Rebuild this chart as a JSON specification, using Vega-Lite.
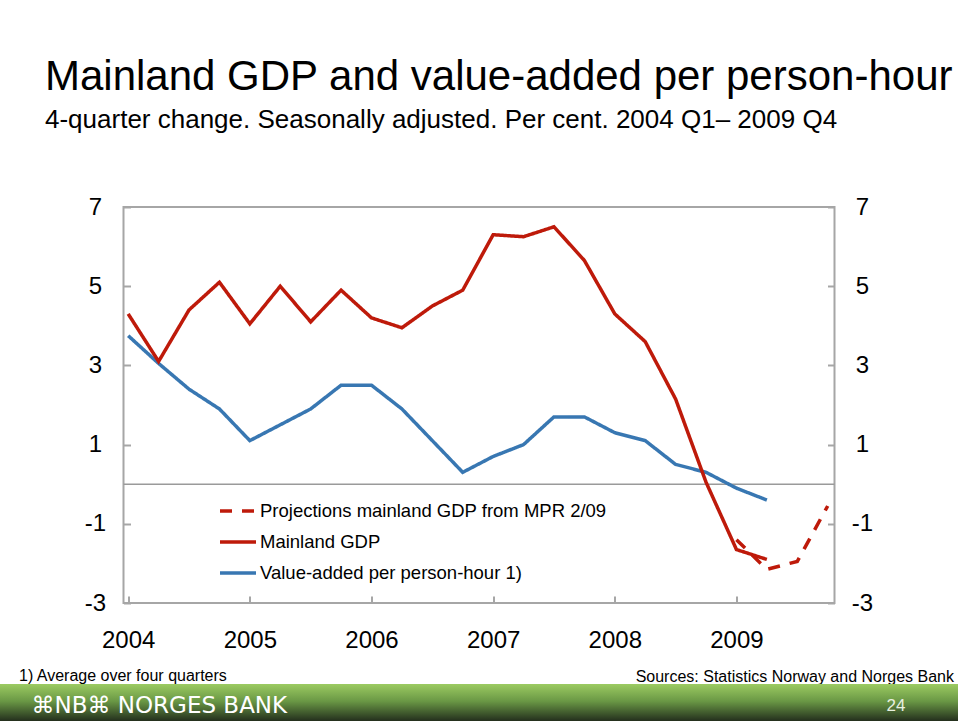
{
  "$schema": "https://vega.github.io/schema/vega-lite/v6.json",
  "background": "white",
  "padding": {"left": 0, "right": 0, "top": 55, "bottom": 0},
  "autosize": {"type": "pad"},
  "bounds": "flush",
  "center": true,
  "spacing": 81,
  "config": {"font": "Liberation Sans"},
  "title": {
    "text": "Mainland GDP and value-added per person-hour",
    "subtitle": "4-quarter change. Seasonally adjusted. Per cent. 2004 Q1– 2009 Q4",
    "anchor": "start",
    "frame": "group",
    "dx": 45,
    "offset": 60,
    "font": "Liberation Sans",
    "fontSize": 42,
    "fontWeight": "normal",
    "color": "#000000",
    "subtitleFont": "Liberation Sans",
    "subtitleFontSize": 26,
    "subtitleColor": "#000000",
    "subtitlePadding": 8.5
  },
  "datasets": {
    "gdp": [
      {"quarter": "2004 Q1", "t": 2004.00, "series": "Value-added per person-hour 1)", "value": 3.75},
      {"quarter": "2004 Q2", "t": 2004.25, "series": "Value-added per person-hour 1)", "value": 3.05},
      {"quarter": "2004 Q3", "t": 2004.50, "series": "Value-added per person-hour 1)", "value": 2.4},
      {"quarter": "2004 Q4", "t": 2004.75, "series": "Value-added per person-hour 1)", "value": 1.9},
      {"quarter": "2005 Q1", "t": 2005.00, "series": "Value-added per person-hour 1)", "value": 1.1},
      {"quarter": "2005 Q2", "t": 2005.25, "series": "Value-added per person-hour 1)", "value": 1.5},
      {"quarter": "2005 Q3", "t": 2005.50, "series": "Value-added per person-hour 1)", "value": 1.9},
      {"quarter": "2005 Q4", "t": 2005.75, "series": "Value-added per person-hour 1)", "value": 2.5},
      {"quarter": "2006 Q1", "t": 2006.00, "series": "Value-added per person-hour 1)", "value": 2.5},
      {"quarter": "2006 Q2", "t": 2006.25, "series": "Value-added per person-hour 1)", "value": 1.9},
      {"quarter": "2006 Q3", "t": 2006.50, "series": "Value-added per person-hour 1)", "value": 1.1},
      {"quarter": "2006 Q4", "t": 2006.75, "series": "Value-added per person-hour 1)", "value": 0.3},
      {"quarter": "2007 Q1", "t": 2007.00, "series": "Value-added per person-hour 1)", "value": 0.7},
      {"quarter": "2007 Q2", "t": 2007.25, "series": "Value-added per person-hour 1)", "value": 1.0},
      {"quarter": "2007 Q3", "t": 2007.50, "series": "Value-added per person-hour 1)", "value": 1.7},
      {"quarter": "2007 Q4", "t": 2007.75, "series": "Value-added per person-hour 1)", "value": 1.7},
      {"quarter": "2008 Q1", "t": 2008.00, "series": "Value-added per person-hour 1)", "value": 1.3},
      {"quarter": "2008 Q2", "t": 2008.25, "series": "Value-added per person-hour 1)", "value": 1.1},
      {"quarter": "2008 Q3", "t": 2008.50, "series": "Value-added per person-hour 1)", "value": 0.5},
      {"quarter": "2008 Q4", "t": 2008.75, "series": "Value-added per person-hour 1)", "value": 0.3},
      {"quarter": "2009 Q1", "t": 2009.00, "series": "Value-added per person-hour 1)", "value": -0.1},
      {"quarter": "2009 Q2", "t": 2009.25, "series": "Value-added per person-hour 1)", "value": -0.4},
      {"quarter": "2004 Q1", "t": 2004.00, "series": "Mainland GDP", "value": 4.3},
      {"quarter": "2004 Q2", "t": 2004.25, "series": "Mainland GDP", "value": 3.1},
      {"quarter": "2004 Q3", "t": 2004.50, "series": "Mainland GDP", "value": 4.4},
      {"quarter": "2004 Q4", "t": 2004.75, "series": "Mainland GDP", "value": 5.1},
      {"quarter": "2005 Q1", "t": 2005.00, "series": "Mainland GDP", "value": 4.05},
      {"quarter": "2005 Q2", "t": 2005.25, "series": "Mainland GDP", "value": 5.0},
      {"quarter": "2005 Q3", "t": 2005.50, "series": "Mainland GDP", "value": 4.1},
      {"quarter": "2005 Q4", "t": 2005.75, "series": "Mainland GDP", "value": 4.9},
      {"quarter": "2006 Q1", "t": 2006.00, "series": "Mainland GDP", "value": 4.2},
      {"quarter": "2006 Q2", "t": 2006.25, "series": "Mainland GDP", "value": 3.95},
      {"quarter": "2006 Q3", "t": 2006.50, "series": "Mainland GDP", "value": 4.5},
      {"quarter": "2006 Q4", "t": 2006.75, "series": "Mainland GDP", "value": 4.9},
      {"quarter": "2007 Q1", "t": 2007.00, "series": "Mainland GDP", "value": 6.3},
      {"quarter": "2007 Q2", "t": 2007.25, "series": "Mainland GDP", "value": 6.25},
      {"quarter": "2007 Q3", "t": 2007.50, "series": "Mainland GDP", "value": 6.5},
      {"quarter": "2007 Q4", "t": 2007.75, "series": "Mainland GDP", "value": 5.65},
      {"quarter": "2008 Q1", "t": 2008.00, "series": "Mainland GDP", "value": 4.3},
      {"quarter": "2008 Q2", "t": 2008.25, "series": "Mainland GDP", "value": 3.6},
      {"quarter": "2008 Q3", "t": 2008.50, "series": "Mainland GDP", "value": 2.15},
      {"quarter": "2008 Q4", "t": 2008.75, "series": "Mainland GDP", "value": 0.05},
      {"quarter": "2009 Q1", "t": 2009.00, "series": "Mainland GDP", "value": -1.65},
      {"quarter": "2009 Q2", "t": 2009.25, "series": "Mainland GDP", "value": -1.9},
      {"quarter": "2009 Q1", "t": 2009.00, "series": "Projections mainland GDP from MPR 2/09", "value": -1.4},
      {"quarter": "2009 Q2", "t": 2009.25, "series": "Projections mainland GDP from MPR 2/09", "value": -2.15},
      {"quarter": "2009 Q3", "t": 2009.50, "series": "Projections mainland GDP from MPR 2/09", "value": -1.95},
      {"quarter": "2009 Q4", "t": 2009.75, "series": "Projections mainland GDP from MPR 2/09", "value": -0.55}
    ]
  },
  "vconcat": [
    {
      "width": 711,
      "height": 396,
      "view": {"stroke": "#a6a6a6", "strokeWidth": 2},
      "layer": [
        {
          "data": {"values": [{"reference": 0}]},
          "mark": {"type": "rule", "color": "#9a9a9a", "strokeWidth": 1.5},
          "encoding": {
            "y": {
              "field": "reference",
              "type": "quantitative",
              "scale": {"domain": [-3, 7], "nice": false, "zero": false},
              "axis": {
                "orient": "right",
                "values": [-3, -1, 1, 3, 5, 7],
                "labelExpr": "toString(datum.value)",
                "domain": false,
                "grid": false,
                "tickSize": -7,
                "tickColor": "#a6a6a6",
                "tickWidth": 2,
                "labelFontSize": 24,
                "labelColor": "#000000",
                "labelAlign": "center",
                "labelPadding": 34.5,
                "title": "Sources: Statistics Norway and Norges Bank",
                "titleAngle": 0,
                "titleX": 119,
                "titleY": 474,
                "titleAlign": "right",
                "titleBaseline": "alphabetic",
                "titleFontSize": 16,
                "titleFontWeight": "normal",
                "titleColor": "#000000"
              }
            }
          }
        },
        {
          "data": {"name": "gdp"},
          "mark": {"type": "line", "strokeJoin": "miter"},
          "encoding": {
            "x": {
              "field": "t",
              "type": "quantitative",
              "scale": {"domain": [2003.9614, 2009.806], "nice": false, "zero": false},
              "axis": {
                "values": [2004, 2005, 2006, 2007, 2008, 2009],
                "format": "d",
                "domain": false,
                "grid": false,
                "labelFlush": false,
                "tickSize": -7,
                "tickColor": "#a6a6a6",
                "tickWidth": 2,
                "labelFontSize": 24,
                "labelColor": "#000000",
                "labelPadding": 32,
                "title": "1) Average over four quarters",
                "titleX": -105,
                "titleY": 77,
                "titleAlign": "left",
                "titleAnchor": "start",
                "titleBaseline": "alphabetic",
                "titleFontSize": 16,
                "titleFontWeight": "normal",
                "titleColor": "#000000"
              }
            },
            "y": {
              "field": "value",
              "type": "quantitative",
              "scale": {"domain": [-3, 7], "nice": false, "zero": false},
              "axis": {
                "orient": "left",
                "values": [-3, -1, 1, 3, 5, 7],
                "labelExpr": "toString(datum.value)",
                "domain": false,
                "grid": false,
                "tickSize": -7,
                "tickColor": "#a6a6a6",
                "tickWidth": 2,
                "labelFontSize": 24,
                "labelColor": "#000000",
                "labelAlign": "center",
                "labelPadding": 35.5,
                "title": null
              }
            },
            "color": {
              "field": "series",
              "type": "nominal",
              "scale": {
                "domain": ["Projections mainland GDP from MPR 2/09", "Mainland GDP", "Value-added per person-hour 1)"],
                "range": ["#BE1A0A", "#BE1A0A", "#3877B2"]
              },
              "legend": {
                "title": null,
                "orient": "none",
                "legendX": 218,
                "legendY": 284,
                "symbolType": "stroke",
                "symbolSize": 1296,
                "symbolStrokeWidth": 3,
                "labelFontSize": 18.5,
                "labelColor": "#000000",
                "labelOffset": 2,
                "labelLimit": 0,
                "rowPadding": 1,
                "padding": 0
              }
            },
            "strokeDash": {
              "field": "series",
              "type": "nominal",
              "scale": {
                "domain": ["Projections mainland GDP from MPR 2/09", "Mainland GDP", "Value-added per person-hour 1)"],
                "range": [[12, 10], [1, 0], [1, 0]]
              }
            },
            "strokeWidth": {
              "field": "series",
              "type": "nominal",
              "scale": {
                "domain": ["Projections mainland GDP from MPR 2/09", "Mainland GDP", "Value-added per person-hour 1)"],
                "range": [3.5, 3.5, 2.6]
              },
              "legend": null
            }
          }
        }
      ],
      "resolve": {"axis": {"y": "independent"}}
    },
    {
      "width": 958,
      "height": 38,
      "view": {
        "stroke": null,
        "fill": {
          "gradient": "linear",
          "x1": 0, "y1": 0, "x2": 0, "y2": 1,
          "stops": [
            {"offset": 0, "color": "#9ccb62"},
            {"offset": 0.45, "color": "#6a9845"},
            {"offset": 1, "color": "#202a1b"}
          ]
        }
      },
      "data": {"values": [{"brand": "⌘NB⌘ NORGES BANK", "page": "24"}]},
      "mark": {"type": "point", "opacity": 0},
      "encoding": {
        "x": {
          "field": "brand",
          "type": "nominal",
          "axis": {
            "orient": "bottom",
            "labels": false,
            "ticks": false,
            "domain": false,
            "grid": false,
            "title": "⌘NB⌘ NORGES BANK",
            "titleX": 31,
            "titleY": -10,
            "titleAlign": "left",
            "titleAnchor": "start",
            "titleBaseline": "alphabetic",
            "titleFont": "DejaVu Sans",
            "titleFontSize": 23,
            "titleFontWeight": "normal",
            "titleColor": "#ffffff"
          }
        },
        "y": {
          "field": "page",
          "type": "nominal",
          "axis": {
            "orient": "right",
            "labels": false,
            "ticks": false,
            "domain": false,
            "grid": false,
            "title": "24",
            "titleAngle": 0,
            "titleX": -53,
            "titleY": 26,
            "titleAlign": "right",
            "titleBaseline": "alphabetic",
            "titleFontSize": 17,
            "titleFontWeight": "normal",
            "titleColor": "#e8f0e0"
          }
        }
      }
    }
  ]
}
